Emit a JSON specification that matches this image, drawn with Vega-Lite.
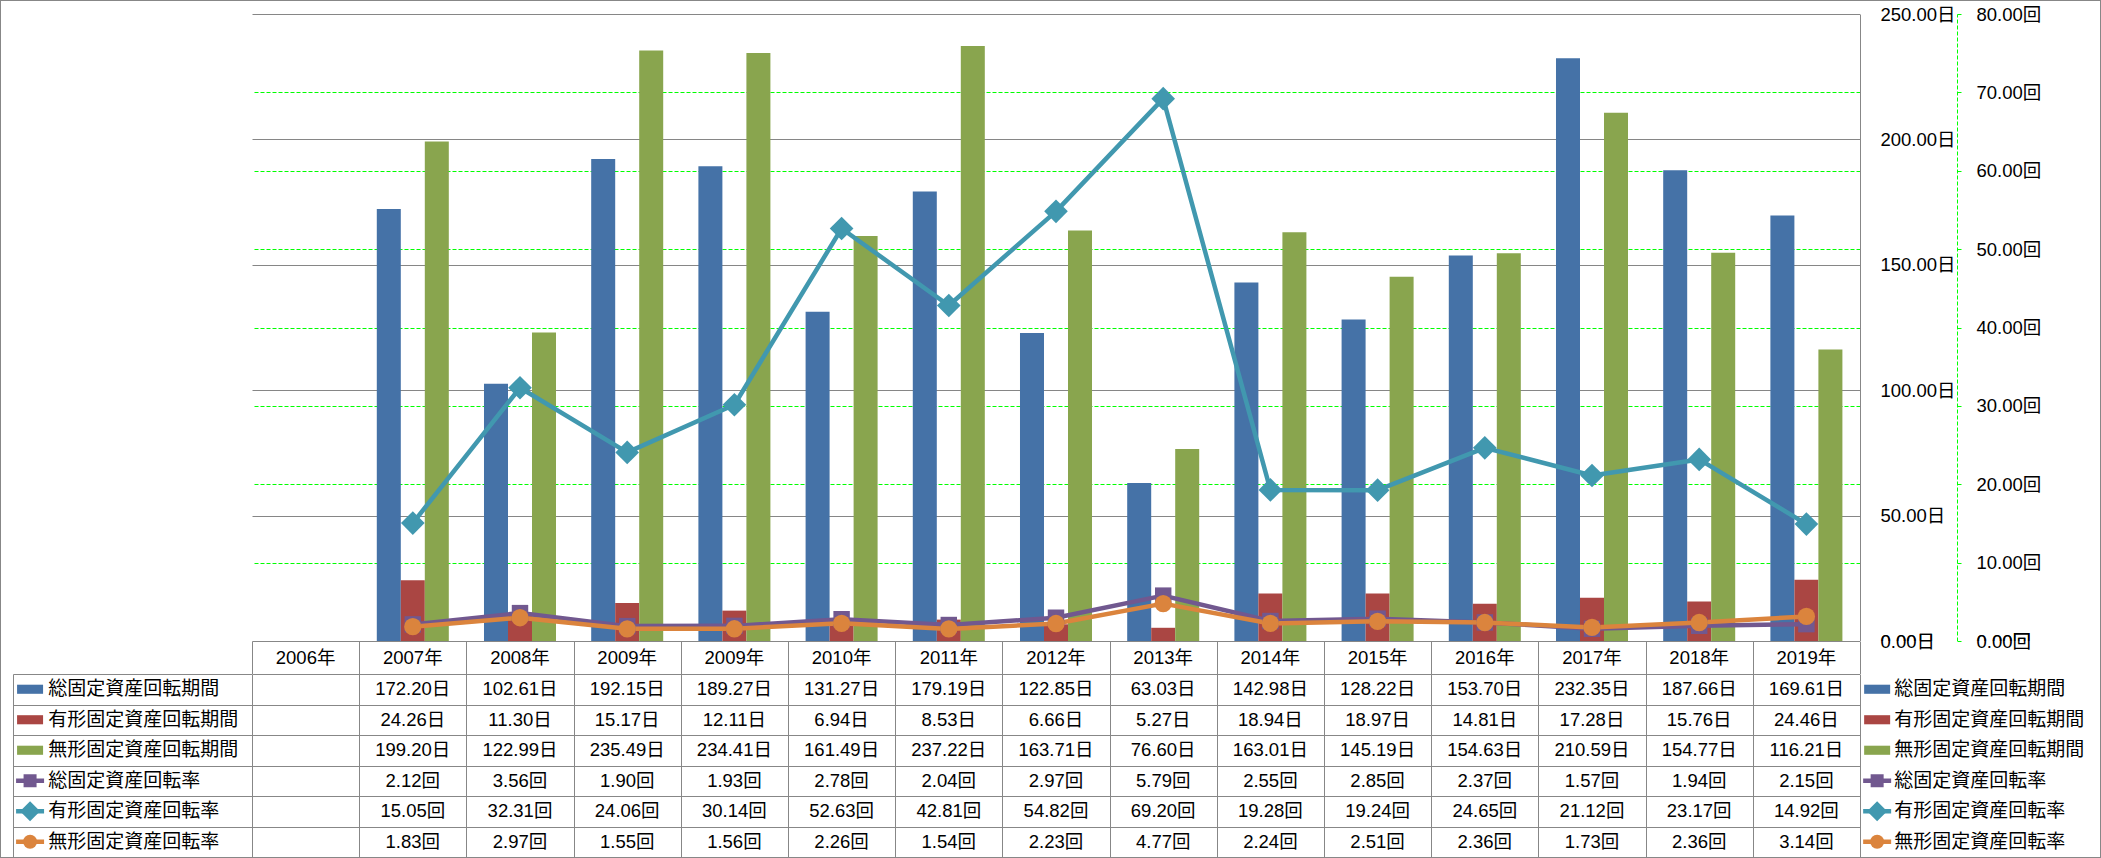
{
  "$schema": "https://vega.github.io/schema/vega-lite/v6.json",
  "background": "#878787",
  "padding": 1,
  "columns": 4,
  "spacing": 0,
  "bounds": "flush",
  "align": "each",
  "config": {
    "view": {"fill": "#ffffff", "stroke": null},
    "axis": {"labelFont": "Liberation Sans, Noto Sans CJK JP", "labelFontSize": 18.5, "labelColor": "#000000"},
    "text": {"font": "Liberation Sans, Noto Sans CJK JP", "fontSize": 18.5, "color": "#000000"},
    "concat": {"spacing": 0}
  },
  "datasets": {
    "years": [
      {"key": "2006", "year": "2006年"}, {"key": "2007", "year": "2007年"}, {"key": "2008", "year": "2008年"},
      {"key": "2009", "year": "2009年"}, {"key": "2009b", "year": "2009年"}, {"key": "2010", "year": "2010年"},
      {"key": "2011", "year": "2011年"}, {"key": "2012", "year": "2012年"}, {"key": "2013", "year": "2013年"},
      {"key": "2014", "year": "2014年"}, {"key": "2015", "year": "2015年"}, {"key": "2016", "year": "2016年"},
      {"key": "2017", "year": "2017年"}, {"key": "2018", "year": "2018年"}, {"key": "2019", "year": "2019年"}
    ],
    "series": [
      {"series": "総固定資産回転期間"}, {"series": "有形固定資産回転期間"}, {"series": "無形固定資産回転期間"},
      {"series": "総固定資産回転率"}, {"series": "有形固定資産回転率"}, {"series": "無形固定資産回転率"}
    ],
    "values": [
      {"key": "2007", "series": "総固定資産回転期間", "value": 172.20}, {"key": "2007", "series": "有形固定資産回転期間", "value": 24.26}, {"key": "2007", "series": "無形固定資産回転期間", "value": 199.20}, {"key": "2007", "series": "総固定資産回転率", "value": 2.12}, {"key": "2007", "series": "有形固定資産回転率", "value": 15.05}, {"key": "2007", "series": "無形固定資産回転率", "value": 1.83},
      {"key": "2008", "series": "総固定資産回転期間", "value": 102.61}, {"key": "2008", "series": "有形固定資産回転期間", "value": 11.30}, {"key": "2008", "series": "無形固定資産回転期間", "value": 122.99}, {"key": "2008", "series": "総固定資産回転率", "value": 3.56}, {"key": "2008", "series": "有形固定資産回転率", "value": 32.31}, {"key": "2008", "series": "無形固定資産回転率", "value": 2.97},
      {"key": "2009", "series": "総固定資産回転期間", "value": 192.15}, {"key": "2009", "series": "有形固定資産回転期間", "value": 15.17}, {"key": "2009", "series": "無形固定資産回転期間", "value": 235.49}, {"key": "2009", "series": "総固定資産回転率", "value": 1.90}, {"key": "2009", "series": "有形固定資産回転率", "value": 24.06}, {"key": "2009", "series": "無形固定資産回転率", "value": 1.55},
      {"key": "2009b", "series": "総固定資産回転期間", "value": 189.27}, {"key": "2009b", "series": "有形固定資産回転期間", "value": 12.11}, {"key": "2009b", "series": "無形固定資産回転期間", "value": 234.41}, {"key": "2009b", "series": "総固定資産回転率", "value": 1.93}, {"key": "2009b", "series": "有形固定資産回転率", "value": 30.14}, {"key": "2009b", "series": "無形固定資産回転率", "value": 1.56},
      {"key": "2010", "series": "総固定資産回転期間", "value": 131.27}, {"key": "2010", "series": "有形固定資産回転期間", "value": 6.94}, {"key": "2010", "series": "無形固定資産回転期間", "value": 161.49}, {"key": "2010", "series": "総固定資産回転率", "value": 2.78}, {"key": "2010", "series": "有形固定資産回転率", "value": 52.63}, {"key": "2010", "series": "無形固定資産回転率", "value": 2.26},
      {"key": "2011", "series": "総固定資産回転期間", "value": 179.19}, {"key": "2011", "series": "有形固定資産回転期間", "value": 8.53}, {"key": "2011", "series": "無形固定資産回転期間", "value": 237.22}, {"key": "2011", "series": "総固定資産回転率", "value": 2.04}, {"key": "2011", "series": "有形固定資産回転率", "value": 42.81}, {"key": "2011", "series": "無形固定資産回転率", "value": 1.54},
      {"key": "2012", "series": "総固定資産回転期間", "value": 122.85}, {"key": "2012", "series": "有形固定資産回転期間", "value": 6.66}, {"key": "2012", "series": "無形固定資産回転期間", "value": 163.71}, {"key": "2012", "series": "総固定資産回転率", "value": 2.97}, {"key": "2012", "series": "有形固定資産回転率", "value": 54.82}, {"key": "2012", "series": "無形固定資産回転率", "value": 2.23},
      {"key": "2013", "series": "総固定資産回転期間", "value": 63.03}, {"key": "2013", "series": "有形固定資産回転期間", "value": 5.27}, {"key": "2013", "series": "無形固定資産回転期間", "value": 76.60}, {"key": "2013", "series": "総固定資産回転率", "value": 5.79}, {"key": "2013", "series": "有形固定資産回転率", "value": 69.20}, {"key": "2013", "series": "無形固定資産回転率", "value": 4.77},
      {"key": "2014", "series": "総固定資産回転期間", "value": 142.98}, {"key": "2014", "series": "有形固定資産回転期間", "value": 18.94}, {"key": "2014", "series": "無形固定資産回転期間", "value": 163.01}, {"key": "2014", "series": "総固定資産回転率", "value": 2.55}, {"key": "2014", "series": "有形固定資産回転率", "value": 19.28}, {"key": "2014", "series": "無形固定資産回転率", "value": 2.24},
      {"key": "2015", "series": "総固定資産回転期間", "value": 128.22}, {"key": "2015", "series": "有形固定資産回転期間", "value": 18.97}, {"key": "2015", "series": "無形固定資産回転期間", "value": 145.19}, {"key": "2015", "series": "総固定資産回転率", "value": 2.85}, {"key": "2015", "series": "有形固定資産回転率", "value": 19.24}, {"key": "2015", "series": "無形固定資産回転率", "value": 2.51},
      {"key": "2016", "series": "総固定資産回転期間", "value": 153.70}, {"key": "2016", "series": "有形固定資産回転期間", "value": 14.81}, {"key": "2016", "series": "無形固定資産回転期間", "value": 154.63}, {"key": "2016", "series": "総固定資産回転率", "value": 2.37}, {"key": "2016", "series": "有形固定資産回転率", "value": 24.65}, {"key": "2016", "series": "無形固定資産回転率", "value": 2.36},
      {"key": "2017", "series": "総固定資産回転期間", "value": 232.35}, {"key": "2017", "series": "有形固定資産回転期間", "value": 17.28}, {"key": "2017", "series": "無形固定資産回転期間", "value": 210.59}, {"key": "2017", "series": "総固定資産回転率", "value": 1.57}, {"key": "2017", "series": "有形固定資産回転率", "value": 21.12}, {"key": "2017", "series": "無形固定資産回転率", "value": 1.73},
      {"key": "2018", "series": "総固定資産回転期間", "value": 187.66}, {"key": "2018", "series": "有形固定資産回転期間", "value": 15.76}, {"key": "2018", "series": "無形固定資産回転期間", "value": 154.77}, {"key": "2018", "series": "総固定資産回転率", "value": 1.94}, {"key": "2018", "series": "有形固定資産回転率", "value": 23.17}, {"key": "2018", "series": "無形固定資産回転率", "value": 2.36},
      {"key": "2019", "series": "総固定資産回転期間", "value": 169.61}, {"key": "2019", "series": "有形固定資産回転期間", "value": 24.46}, {"key": "2019", "series": "無形固定資産回転期間", "value": 116.21}, {"key": "2019", "series": "総固定資産回転率", "value": 2.15}, {"key": "2019", "series": "有形固定資産回転率", "value": 14.92}, {"key": "2019", "series": "無形固定資産回転率", "value": 3.14}
    ]
  },
  "concat": [
    {"width": 12, "height": 13, "data": {"values": [{}]}, "mark": {"type": "point", "opacity": 0}, "encoding": {"x": {"datum": "b", "type": "nominal", "scale": {"type": "band"}, "axis": null}, "y": {"datum": "b", "type": "nominal", "scale": {"type": "band"}, "axis": null}}},
    {"width": 239, "height": 13, "data": {"values": [{}]}, "mark": {"type": "point", "opacity": 0}, "encoding": {"x": {"datum": "b", "type": "nominal", "scale": {"type": "band"}, "axis": null}, "y": {"datum": "b", "type": "nominal", "scale": {"type": "band"}, "axis": null}}},
    {"width": 1608, "height": 13, "data": {"values": [{}]}, "mark": {"type": "point", "opacity": 0}, "encoding": {"x": {"datum": "b", "type": "nominal", "scale": {"type": "band"}, "axis": null}, "y": {"datum": "b", "type": "nominal", "scale": {"type": "band"}, "axis": null}}},
    {"width": 240, "height": 13, "data": {"values": [{}]}, "mark": {"type": "point", "opacity": 0}, "encoding": {"x": {"datum": "b", "type": "nominal", "scale": {"type": "band"}, "axis": null}, "y": {"datum": "b", "type": "nominal", "scale": {"type": "band"}, "axis": null}}},

    {"width": 12, "height": 627, "data": {"values": [{}]}, "mark": {"type": "point", "opacity": 0}, "encoding": {"x": {"datum": "b", "type": "nominal", "scale": {"type": "band"}, "axis": null}, "y": {"datum": "b", "type": "nominal", "scale": {"type": "band"}, "axis": null}}},
    {"width": 239, "height": 627, "data": {"values": [{}]}, "mark": {"type": "point", "opacity": 0}, "encoding": {"x": {"datum": "b", "type": "nominal", "scale": {"type": "band"}, "axis": null}, "y": {"datum": "b", "type": "nominal", "scale": {"type": "band"}, "axis": null}}},
    {
      "width": 1608, "height": 627,
      "data": {"name": "values"},
      "encoding": {
        "x": {"field": "key", "type": "nominal", "scale": {"type": "band", "domain": ["2006", "2007", "2008", "2009", "2009b", "2010", "2011", "2012", "2013", "2014", "2015", "2016", "2017", "2018", "2019"], "paddingInner": 0, "paddingOuter": 0}, "axis": null},
        "color": {"field": "series", "type": "nominal", "scale": {"domain": ["総固定資産回転期間", "有形固定資産回転期間", "無形固定資産回転期間", "総固定資産回転率", "有形固定資産回転率", "無形固定資産回転率"], "range": ["#4572A7", "#AA4643", "#89A54E", "#71588F", "#4198AF", "#DB843D"]}, "legend": null}
      },
      "layer": [
        {
          "transform": [{"filter": "indexof(datum.series, '期間') >= 0"}],
          "mark": {"type": "bar"},
          "encoding": {
            "xOffset": {"field": "series", "type": "nominal", "scale": {"domain": ["総固定資産回転期間", "有形固定資産回転期間", "無形固定資産回転期間"], "paddingInner": 0, "paddingOuter": 0.733}},
            "y": {"field": "value", "type": "quantitative", "scale": {"domain": [0, 250], "nice": false},
              "axis": {"orient": "left", "title": null, "values": [0, 50, 100, 150, 200, 250], "grid": true, "gridColor": "#868686", "gridWidth": 1, "labels": false, "ticks": false, "domain": false}}
          }
        },
        {
          "transform": [{"filter": "indexof(datum.series, '率') >= 0"}],
          "encoding": {
            "y": {"field": "value", "type": "quantitative", "scale": {"domain": [0, 80], "nice": false},
              "axis": {"orient": "right", "title": null, "values": [10, 20, 30, 40, 50, 60, 70], "grid": true, "gridColor": "#00FF00", "gridDash": [4, 2], "gridWidth": 1, "labels": false, "ticks": false, "domain": false}}
          },
          "layer": [
            {"mark": {"type": "line", "strokeWidth": 4.5, "strokeJoin": "round"}},
            {"transform": [{"filter": "datum.series == '総固定資産回転率'"}], "mark": {"type": "point", "shape": "square", "size": 270, "filled": true, "opacity": 1}},
            {"transform": [{"filter": "datum.series == '有形固定資産回転率'"}], "mark": {"type": "point", "shape": "diamond", "size": 560, "filled": true, "opacity": 1}},
            {"transform": [{"filter": "datum.series == '無形固定資産回転率'"}], "mark": {"type": "point", "shape": "circle", "size": 300, "filled": true, "opacity": 1}}
          ]
        }
      ],
      "resolve": {"scale": {"y": "independent"}}
    },
    {
      "width": 240, "height": 627,
      "data": {"values": [{}]},
      "encoding": {"x": {"datum": "axes", "type": "nominal", "scale": {"type": "band", "domain": ["axes"]}, "axis": null}},
      "layer": [
        {
          "mark": {"type": "point", "opacity": 0},
          "encoding": {
            "y": {"datum": 0, "type": "quantitative", "scale": {"domain": [0, 250], "nice": false},
              "axis": {"orient": "right", "offset": -240, "title": null, "values": [0, 50, 100, 150, 200, 250], "labelExpr": "format(datum.value, '.2f') + '日'", "labelPadding": 20, "ticks": false, "domain": true, "domainColor": "#878787", "grid": false}}
          }
        },
        {
          "mark": {"type": "point", "opacity": 0},
          "encoding": {
            "y": {"datum": 0, "type": "quantitative", "scale": {"domain": [0, 80], "nice": false},
              "axis": {"orient": "right", "offset": -143, "title": null, "values": [0, 10, 20, 30, 40, 50, 60, 70, 80], "labelExpr": "format(datum.value, '.2f') + '回'", "labelPadding": 15, "ticks": true, "tickSize": 4, "tickColor": "#00FF00", "domain": true, "domainColor": "#00FF00", "domainDash": [4, 2], "grid": false}}
          }
        }
      ],
      "resolve": {"scale": {"y": "independent"}}
    },

    {"width": 12, "height": 33, "data": {"values": [{}]}, "mark": {"type": "point", "opacity": 0}, "encoding": {"x": {"datum": "b", "type": "nominal", "scale": {"type": "band"}, "axis": null}, "y": {"datum": "b", "type": "nominal", "scale": {"type": "band"}, "axis": null}}},
    {"width": 239, "height": 33, "data": {"values": [{}]}, "mark": {"type": "point", "opacity": 0}, "encoding": {"x": {"datum": "b", "type": "nominal", "scale": {"type": "band"}, "axis": null}, "y": {"datum": "b", "type": "nominal", "scale": {"type": "band"}, "axis": null}}},
    {
      "width": 1608, "height": 33,
      "data": {"name": "years"},
      "mark": {"type": "text", "baseline": "middle"},
      "encoding": {
        "x": {"field": "key", "type": "nominal", "scale": {"type": "band", "domain": ["2006", "2007", "2008", "2009", "2009b", "2010", "2011", "2012", "2013", "2014", "2015", "2016", "2017", "2018", "2019"], "paddingInner": 0, "paddingOuter": 0},
          "axis": {"orient": "top", "title": null, "labels": false, "ticks": false, "domain": true, "domainColor": "#878787", "grid": true, "gridColor": "#878787", "tickBand": "extent"}},
        "text": {"field": "year"}
      }
    },
    {
      "width": 240, "height": 33,
      "data": {"values": [{}]},
      "encoding": {"x": {"datum": "axes", "type": "nominal", "scale": {"type": "band", "domain": ["axes"]}, "axis": null}},
      "layer": [
        {
          "mark": {"type": "point", "opacity": 0},
          "encoding": {
            "y": {"datum": 0, "type": "quantitative", "scale": {"domain": [-13.158, 0], "nice": false, "zero": false},
              "axis": {"orient": "right", "offset": -240, "title": null, "values": [0], "labelExpr": "format(datum.value, '.2f') + '日'", "labelPadding": 20, "ticks": false, "domain": true, "domainColor": "#878787", "grid": false}}
          }
        },
        {
          "mark": {"type": "point", "opacity": 0},
          "encoding": {
            "y": {"datum": 0, "type": "quantitative", "scale": {"domain": [-4.2105, 0], "nice": false, "zero": false},
              "axis": {"orient": "right", "offset": -143, "title": null, "values": [0], "labelExpr": "format(datum.value, '.2f') + '回'", "labelPadding": 15, "ticks": true, "tickSize": 4, "tickColor": "#00FF00", "domain": false, "grid": false}}
          }
        }
      ],
      "resolve": {"scale": {"y": "independent"}}
    },

    {"width": 12, "height": 183, "data": {"values": [{}]}, "mark": {"type": "point", "opacity": 0}, "encoding": {"x": {"datum": "b", "type": "nominal", "scale": {"type": "band"}, "axis": null}, "y": {"datum": "b", "type": "nominal", "scale": {"type": "band"}, "axis": null}}},
    {
      "width": 239, "height": 183,
      "data": {"name": "series"},
      "encoding": {
        "y": {"field": "series", "type": "nominal", "scale": {"type": "band", "domain": ["総固定資産回転期間", "有形固定資産回転期間", "無形固定資産回転期間", "総固定資産回転率", "有形固定資産回転率", "無形固定資産回転率"], "paddingInner": 0, "paddingOuter": 0},
          "axis": {"orient": "left", "title": null, "labels": false, "ticks": false, "domain": true, "domainColor": "#878787", "grid": true, "gridColor": "#878787", "tickBand": "extent"}},
        "color": {"field": "series", "type": "nominal", "scale": {"domain": ["総固定資産回転期間", "有形固定資産回転期間", "無形固定資産回転期間", "総固定資産回転率", "有形固定資産回転率", "無形固定資産回転率"], "range": ["#4572A7", "#AA4643", "#89A54E", "#71588F", "#4198AF", "#DB843D"]}, "legend": null}
      },
      "layer": [
        {"transform": [{"filter": "indexof(datum.series, '期間') >= 0"}], "mark": {"type": "point", "shape": "M-1,-0.35H1V0.35H-1Z", "size": 676, "filled": true, "opacity": 1},
         "encoding": {"x": {"datum": "sym", "type": "nominal", "scale": {"type": "band", "domain": ["sym", "c1", "c2", "c3", "c4", "c5", "c6"], "paddingInner": 0, "paddingOuter": 0}, "axis": null}}},
        {"transform": [{"filter": "indexof(datum.series, '率') >= 0"}], "mark": {"type": "point", "shape": "stroke", "size": 784, "filled": false, "strokeWidth": 4.5, "opacity": 1},
         "encoding": {"x": {"datum": "sym", "type": "nominal"}}},
        {"transform": [{"filter": "datum.series == '総固定資産回転率'"}], "mark": {"type": "point", "shape": "square", "size": 169, "filled": true, "opacity": 1},
         "encoding": {"x": {"datum": "sym", "type": "nominal"}}},
        {"transform": [{"filter": "datum.series == '有形固定資産回転率'"}], "mark": {"type": "point", "shape": "diamond", "size": 400, "filled": true, "opacity": 1},
         "encoding": {"x": {"datum": "sym", "type": "nominal"}}},
        {"transform": [{"filter": "datum.series == '無形固定資産回転率'"}], "mark": {"type": "point", "shape": "circle", "size": 196, "filled": true, "opacity": 1},
         "encoding": {"x": {"datum": "sym", "type": "nominal"}}},
        {"mark": {"type": "text", "align": "left", "baseline": "middle", "dx": 1, "fontSize": 19},
         "encoding": {"x": {"datum": "sym", "type": "nominal", "bandPosition": 1}, "text": {"field": "series"}, "color": {"value": "#000000"}}}
      ]
    },
    {
      "width": 1608, "height": 183,
      "data": {"name": "values"},
      "transform": [{"calculate": "format(datum.value, '.2f') + (indexof(datum.series, '率') >= 0 ? '回' : '日')", "as": "label"}],
      "mark": {"type": "text", "baseline": "middle"},
      "encoding": {
        "x": {"field": "key", "type": "nominal", "scale": {"type": "band", "domain": ["2006", "2007", "2008", "2009", "2009b", "2010", "2011", "2012", "2013", "2014", "2015", "2016", "2017", "2018", "2019"], "paddingInner": 0, "paddingOuter": 0},
          "axis": {"orient": "top", "title": null, "labels": false, "ticks": false, "domain": false, "grid": true, "gridColor": "#878787", "tickBand": "extent"}},
        "y": {"field": "series", "type": "nominal", "scale": {"type": "band", "domain": ["総固定資産回転期間", "有形固定資産回転期間", "無形固定資産回転期間", "総固定資産回転率", "有形固定資産回転率", "無形固定資産回転率"], "paddingInner": 0, "paddingOuter": 0},
          "axis": {"orient": "left", "title": null, "labels": false, "ticks": false, "domain": false, "grid": true, "gridColor": "#878787", "tickBand": "extent"}},
        "text": {"field": "label"}
      }
    },
    {
      "width": 240, "height": 183,
      "data": {"name": "series"},
      "encoding": {
        "y": {"field": "series", "type": "nominal", "scale": {"type": "band", "domain": ["総固定資産回転期間", "有形固定資産回転期間", "無形固定資産回転期間", "総固定資産回転率", "有形固定資産回転率", "無形固定資産回転率"], "paddingInner": 0, "paddingOuter": 0},
          "axis": {"orient": "left", "title": null, "labels": false, "ticks": false, "domain": true, "domainColor": "#878787", "grid": false}},
        "color": {"field": "series", "type": "nominal", "scale": {"domain": ["総固定資産回転期間", "有形固定資産回転期間", "無形固定資産回転期間", "総固定資産回転率", "有形固定資産回転率", "無形固定資産回転率"], "range": ["#4572A7", "#AA4643", "#89A54E", "#71588F", "#4198AF", "#DB843D"]}, "legend": null}
      },
      "layer": [
        {"transform": [{"filter": "indexof(datum.series, '期間') >= 0"}], "mark": {"type": "point", "shape": "M-1,-0.35H1V0.35H-1Z", "size": 676, "filled": true, "opacity": 1},
         "encoding": {"x": {"datum": "sym", "type": "nominal", "scale": {"type": "band", "domain": ["sym", "c1", "c2", "c3", "c4", "c5", "c6"], "paddingInner": 0, "paddingOuter": 0}, "axis": null}}},
        {"transform": [{"filter": "indexof(datum.series, '率') >= 0"}], "mark": {"type": "point", "shape": "stroke", "size": 784, "filled": false, "strokeWidth": 4.5, "opacity": 1},
         "encoding": {"x": {"datum": "sym", "type": "nominal"}}},
        {"transform": [{"filter": "datum.series == '総固定資産回転率'"}], "mark": {"type": "point", "shape": "square", "size": 169, "filled": true, "opacity": 1},
         "encoding": {"x": {"datum": "sym", "type": "nominal"}}},
        {"transform": [{"filter": "datum.series == '有形固定資産回転率'"}], "mark": {"type": "point", "shape": "diamond", "size": 400, "filled": true, "opacity": 1},
         "encoding": {"x": {"datum": "sym", "type": "nominal"}}},
        {"transform": [{"filter": "datum.series == '無形固定資産回転率'"}], "mark": {"type": "point", "shape": "circle", "size": 196, "filled": true, "opacity": 1},
         "encoding": {"x": {"datum": "sym", "type": "nominal"}}},
        {"mark": {"type": "text", "align": "left", "baseline": "middle", "dx": 0, "fontSize": 19},
         "encoding": {"x": {"datum": "sym", "type": "nominal", "bandPosition": 1}, "text": {"field": "series"}, "color": {"value": "#000000"}}}
      ]
    }
  ]
}
